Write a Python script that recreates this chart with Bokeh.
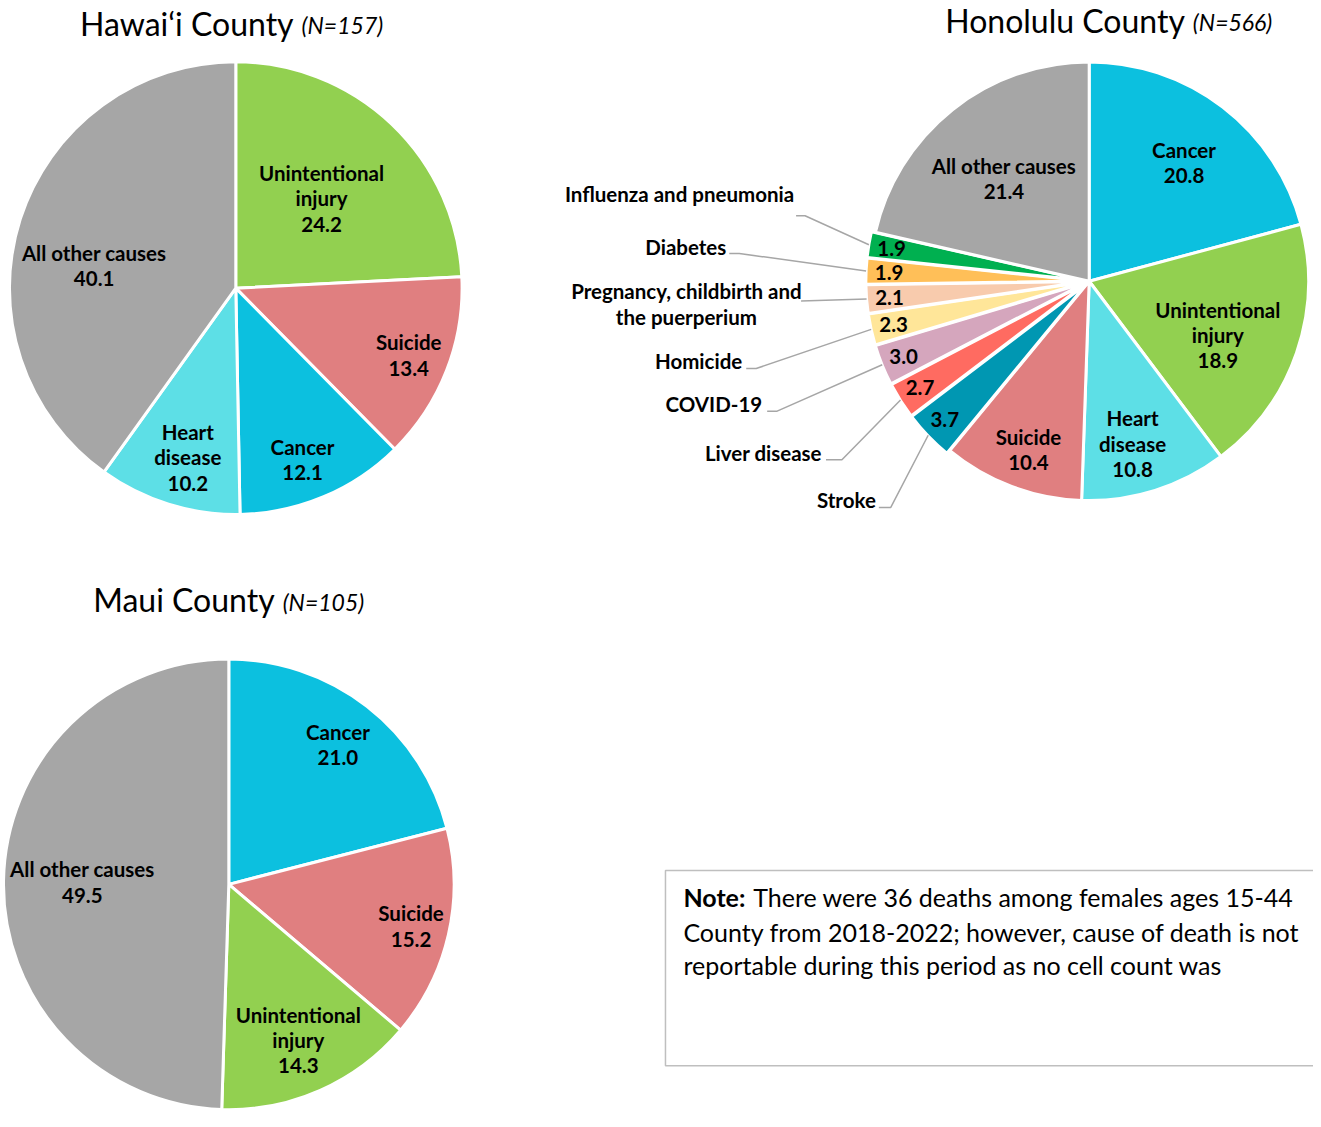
import math
from bokeh.plotting import figure
from bokeh.models import Range1d
from bokeh.embed import file_html
from bokeh.resources import INLINE
from bokeh.core.properties import value

# ---------------- data ----------------
hawaii_causes = ["Unintentional injury", "Suicide", "Cancer", "Heart disease", "All other causes"]
hawaii_pct = [24.2, 13.4, 12.1, 10.2, 40.1]
hawaii_title = "Hawai\u2018i County"
hawaii_n = "(N=157)"

honolulu_causes = ["Cancer", "Unintentional injury", "Heart disease", "Suicide", "Stroke",
                   "Liver disease", "COVID-19", "Homicide",
                   "Pregnancy, childbirth and the puerperium", "Diabetes",
                   "Influenza and pneumonia", "All other causes"]
honolulu_pct = [20.8, 18.9, 10.8, 10.4, 3.7, 2.7, 3.0, 2.3, 2.1, 1.9, 1.9, 21.4]
honolulu_title = "Honolulu County"
honolulu_n = "(N=566)"

maui_causes = ["Cancer", "Suicide", "Unintentional injury", "All other causes"]
maui_pct = [21.0, 15.2, 14.3, 49.5]
maui_title = "Maui County"
maui_n = "(N=105)"

note_bold = "Note:"
note_lines = ["There were 36 deaths among females ages 15-44",
              "County from 2018-2022; however, cause of death is not",
              "reportable during this period as no cell count was"]

# ---------------- style ----------------
COLORS = {
    "Unintentional injury": "#92d050",
    "Suicide": "#e07f80",
    "Cancer": "#0cc0df",
    "Heart disease": "#5ddfe6",
    "All other causes": "#a6a6a6",
    "Stroke": "#0097b2",
    "Liver disease": "#ff6b61",
    "COVID-19": "#d5a6bd",
    "Homicide": "#ffe699",
    "Pregnancy, childbirth and the puerperium": "#f8cbad",
    "Diabetes": "#ffbf58",
    "Influenza and pneumonia": "#00b050",
}
WRAP = {"Unintentional injury": "Unintentional\ninjury",
        "Heart disease": "Heart\ndisease",
        "Pregnancy, childbirth and the puerperium": "Pregnancy, childbirth and\nthe puerperium"}

FONT = value("Lato")
LABEL_SIZE = "20.5px"
LINE_H = 1.06
PAGE_H = 1127

def Y(py):
    return PAGE_H - py

# the reference canvas (4..1321 x 3..1123) is mapped onto a 1313 x 1111 figure
p = figure(width=1313, height=1111, x_range=Range1d(4, 1321), y_range=Range1d(Y(1123), Y(3)),
           output_backend="svg", toolbar_location=None, min_border=0,
           x_axis_location=None, y_axis_location=None)
p.grid.visible = False
p.outline_line_color = None
p.background_fill_color = "white"
p.border_fill_color = "white"


def draw_pie(causes, pct, cx, cy, r, label_pos, explode=None, inside_name=None):
    """cx, cy in reference pixels; label_pos: cause -> (radial fraction, clockwise angle offset deg)"""
    total = sum(pct)
    cum = 0.0
    xs, ys, starts, ends, cols = [], [], [], [], []
    geo = {}
    for c, v in zip(causes, pct):
        a0 = 90 - 360 * cum / total
        a1 = 90 - 360 * (cum + v) / total
        mid = math.radians((a0 + a1) / 2)
        e = (explode or {}).get(c, 0)
        ox = cx + e * math.cos(mid)
        oy = Y(cy) + e * math.sin(mid)
        xs.append(ox); ys.append(oy)
        starts.append(math.radians(a1)); ends.append(math.radians(a0))
        cols.append(COLORS[c])
        geo[c] = (ox, oy, mid, v)
        cum += v
    p.wedge(x=xs, y=ys, radius=r, start_angle=starts, end_angle=ends,
            fill_color=cols, line_color="white", line_width=3)
    lx, ly, lt = [], [], []
    for c in causes:
        ox, oy, mid, v = geo[c]
        frac, off = label_pos[c]
        ang = mid - math.radians(off)
        lx.append(ox + frac * r * math.cos(ang))
        ly.append(oy + frac * r * math.sin(ang))
        if inside_name is None or c in inside_name:
            lt.append(WRAP.get(c, c) + "\n" + f"{v:.1f}")
        else:
            lt.append(f"{v:.1f}")
    p.text(x=lx, y=ly, text=lt, text_align="center", text_baseline="middle",
           text_font=FONT, text_font_style="bold", text_font_size=LABEL_SIZE,
           text_line_height=LINE_H, text_color="black")
    return geo


def title(main, n, x_gap, yc):
    p.text(x=[x_gap], y=[Y(yc)], text=[main], text_align="right",
           text_baseline="middle", text_font=FONT, text_font_size="32px",
           text_color="black")
    p.text(x=[x_gap + 8], y=[Y(yc + 2)], text=[n], text_align="left",
           text_baseline="middle", text_font=FONT, text_font_size="23px",
           text_font_style="italic", text_color="black")


# Hawai'i
draw_pie(hawaii_causes, hawaii_pct, 240, 293, 227,
         {"Unintentional injury": (0.55, 0), "Suicide": (0.82, 0), "Cancer": (0.817, 1.7),
          "Heart disease": (0.78, -1.5), "All other causes": (0.634, -8.6)})
title(hawaii_title, hawaii_n, 298, 26)

# Honolulu
small = ["Stroke", "Liver disease", "COVID-19", "Homicide",
         "Pregnancy, childbirth and the puerperium", "Diabetes", "Influenza and pneumonia"]
hon_lbl = {"Cancer": (0.695, 1), "Unintentional injury": (0.636, 3.8),
           "Heart disease": (0.77, 2.6), "Suicide": (0.82, -1), "All other causes": (0.61, -1)}
for s in small:
    hon_lbl[s] = (0.895, 0)
HR = 220
geo = draw_pie(honolulu_causes, honolulu_pct, 1096, 286, HR, hon_lbl,
               explode={s: 4 for s in small},
               inside_name=["Cancer", "Unintentional injury", "Heart disease", "Suicide", "All other causes"])
title(honolulu_title, honolulu_n, 1192, 23)

# outside labels for small slices: text anchor (x, y), align, leader start x, elbow x, leader y
OUT = {
    "Influenza and pneumonia": (800, 198, "right", 802, 811, 220),
    "Diabetes": (732, 251, "right", 735, 745, 258),
    "Pregnancy, childbirth and the puerperium": (692, 309, "center", 807, 807, 306),
    "Homicide": (748, 366, "right", 752, 762, 374),
    "COVID-19": (768, 410, "right", 773, 783, 417),
    "Liver disease": (828, 459, "right", 832, 848, 466),
    "Stroke": (882, 507, "right", 885, 897, 514),
}
lxs, lys = [], []
for c in small:
    tx, ty, al, x0, x1, yy = OUT[c]
    ox, oy, mid, v = geo[c]
    ex = ox + HR * math.cos(mid)
    ey = oy + HR * math.sin(mid)
    lxs.append([x0, x1, ex]); lys.append([Y(yy), Y(yy), ey])
    p.text(x=[tx], y=[Y(ty)], text=[WRAP.get(c, c)], text_align=al, text_baseline="middle",
           text_font=FONT, text_font_style="bold", text_font_size=LABEL_SIZE,
           text_line_height=LINE_H, text_color="black")
p.multi_line(xs=lxs, ys=lys, line_color="#a6a6a6", line_width=1.5)

# Maui
draw_pie(maui_causes, maui_pct, 233, 894, 226,
         {"Cancer": (0.79, 0), "Suicide": (0.83, 0), "Unintentional injury": (0.76, 0),
          "All other causes": (0.65, 0)})
title(maui_title, maui_n, 279, 607)

# Note box
p.quad(left=[671], right=[1345], top=[Y(880)], bottom=[Y(1077)], fill_color="white",
       line_color="#bfbfbf", line_width=1.5)
NOTE_SIZE = "25px"
p.text(x=[689], y=[Y(907)], text=[note_bold], text_align="left", text_baseline="middle",
       text_font=FONT, text_font_style="bold", text_font_size=NOTE_SIZE, text_color="black")
p.text(x=[759, 689, 689], y=[Y(907), Y(942), Y(975)], text=note_lines, text_align="left",
       text_baseline="middle", text_font=FONT, text_font_size=NOTE_SIZE, text_color="black")

open("out.html", "w").write(file_html(p, INLINE))
